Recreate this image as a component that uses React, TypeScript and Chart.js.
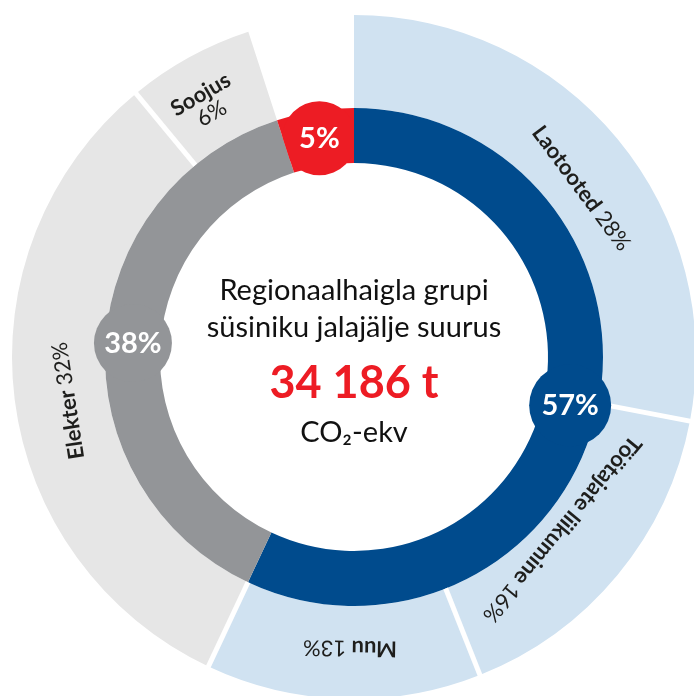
import React, { useEffect, useRef } from 'react';
import { Chart, registerables } from 'chart.js';

Chart.register(...registerables);

// ---- data ----
const outerCategories = ['Laotooted', 'Töötajate liikumine', 'Muu', 'Elekter', 'Soojus', ''];
const outerValues = [28, 16, 13, 32, 6, 5];
const innerValues = [57, 38, 5];
const centerTitle = ['Regionaalhaigla grupi', 'süsiniku jalajälje suurus'];
const centerTotal = '34 186 t';
const centerUnit = 'CO₂-ekv';

// ---- styles ----
const outerColors = ['#D0E2F1', '#D0E2F1', '#D0E2F1', '#E6E6E6', '#E6E6E6', 'rgba(0,0,0,0)'];
const innerColors = ['#004B8D', '#939598', '#ED1C24'];
const bubbleRadius = [41, 39, 37];
const labelRadius = [283, 270, 291, 289, 293];
const labelAngleOffset = [3, 0, -1, -1.5, -1.5];
const labelTwoLines = [false, false, false, false, true];
const FONT = 'Lato, "Open Sans", sans-serif';
const TEXT_DARK = '#1E1E1C';

const overlayPlugin = {
  id: 'overlay',
  afterDatasetsDraw(chart: any) {
    const ctx: CanvasRenderingContext2D = chart.ctx;
    const outer = chart.getDatasetMeta(0).data as any[];
    const inner = chart.getDatasetMeta(1).data as any[];
    if (!outer.length || !inner.length) return;
    const cx = outer[0].x;
    const cy = outer[0].y;
    ctx.save();

    // white separators between outer segments
    ctx.strokeStyle = '#ffffff';
    ctx.lineWidth = 5;
    ctx.lineCap = 'butt';
    for (let i = 0; i < outer.length - 1; i++) {
      if (!outerCategories[i] || !outerCategories[i + 1]) continue;
      const a = outer[i].endAngle;
      const r0 = outer[i].innerRadius;
      const r1 = outer[i].outerRadius + 4;
      ctx.beginPath();
      ctx.moveTo(cx + r0 * Math.cos(a), cy + r0 * Math.sin(a));
      ctx.lineTo(cx + r1 * Math.cos(a), cy + r1 * Math.sin(a));
      ctx.stroke();
    }

    // bubbles on inner ring
    inner.forEach((arc: any, i: number) => {
      const mid = (arc.startAngle + arc.endAngle) / 2;
      const r = (arc.innerRadius + arc.outerRadius) / 2;
      const bx = cx + r * Math.cos(mid);
      const by = cy + r * Math.sin(mid);
      ctx.save();
      ctx.beginPath();
      ctx.moveTo(cx, cy);
      ctx.arc(cx, cy, arc.outerRadius * 2, arc.startAngle, arc.endAngle);
      ctx.closePath();
      ctx.clip();
      ctx.beginPath();
      ctx.arc(bx, by, bubbleRadius[i], 0, Math.PI * 2);
      ctx.fillStyle = innerColors[i];
      ctx.fill();
      ctx.restore();
      ctx.fillStyle = '#ffffff';
      ctx.font = `bold 29px ${FONT}`;
      ctx.textAlign = 'center';
      ctx.textBaseline = 'alphabetic';
      ctx.fillText(`${innerValues[i]}%`, bx, by + 10);
    });

    // outer labels
    const fs = 22;
    outer.forEach((arc: any, i: number) => {
      if (!outerCategories[i]) return;
      const ang = (arc.startAngle + arc.endAngle) / 2 + (labelAngleOffset[i] * Math.PI) / 180;
      const r = labelRadius[i];
      const x = cx + r * Math.cos(ang);
      const y = cy + r * Math.sin(ang);
      ctx.save();
      ctx.translate(x, y);
      ctx.rotate(ang + Math.PI / 2);
      ctx.fillStyle = TEXT_DARK;
      ctx.textBaseline = 'middle';
      const name = outerCategories[i];
      const pct = `${outerValues[i]}%`;
      if (labelTwoLines[i]) {
        ctx.textAlign = 'center';
        ctx.font = `bold ${fs}px ${FONT}`;
        ctx.fillText(name, 0, -11);
        ctx.font = `${fs}px ${FONT}`;
        ctx.fillText(pct, 0, 11);
      } else {
        ctx.textAlign = 'left';
        ctx.font = `bold ${fs}px ${FONT}`;
        const w1 = ctx.measureText(name + ' ').width;
        ctx.font = `${fs}px ${FONT}`;
        const w2 = ctx.measureText(pct).width;
        const start = -(w1 + w2) / 2;
        ctx.font = `bold ${fs}px ${FONT}`;
        ctx.fillText(name, start, 0);
        ctx.font = `${fs}px ${FONT}`;
        ctx.fillText(pct, start + w1, 0);
      }
      ctx.restore();
    });

    // centre text
    ctx.textAlign = 'center';
    ctx.textBaseline = 'alphabetic';
    ctx.fillStyle = '#111111';
    ctx.font = `29px ${FONT}`;
    ctx.fillText(centerTitle[0], cx, cy - 57);
    ctx.fillText(centerTitle[1], cx, cy - 20);
    ctx.fillStyle = '#ED1C24';
    ctx.font = `bold 45px ${FONT}`;
    ctx.fillText(centerTotal, cx, cy + 41);
    ctx.fillStyle = '#111111';
    ctx.font = `29px ${FONT}`;
    ctx.fillText(centerUnit, cx, cy + 85);

    ctx.restore();
  },
};

export default function App() {
  const ref = useRef<HTMLCanvasElement | null>(null);

  useEffect(() => {
    if (!ref.current) return;
    const chart = new Chart(ref.current, {
      type: 'doughnut',
      data: {
        labels: outerCategories,
        datasets: [
          {
            data: outerValues,
            backgroundColor: outerColors,
            borderWidth: 0,
            weight: 93,
            order: 1,
          } as any,
          {
            data: innerValues,
            backgroundColor: innerColors,
            borderWidth: 0,
            weight: 55,
            order: 0,
          } as any,
        ],
      },
      options: {
        responsive: false,
        animation: false,
        events: [],
        radius: 342,
        cutout: '56.725%',
        layout: { padding: 0 },
        plugins: {
          legend: { display: false },
          tooltip: { enabled: false },
        },
      } as any,
      plugins: [overlayPlugin],
    });
    return () => chart.destroy();
  }, []);

  return (
    <div style={{ position: 'fixed', left: 0, top: 0, width: 694, height: 696, overflow: 'hidden', background: '#fff' }}>
      <canvas
        ref={ref}
        width={700}
        height={700}
        style={{ position: 'absolute', left: 4, top: 7, width: 700, height: 700 }}
      />
    </div>
  );
}
